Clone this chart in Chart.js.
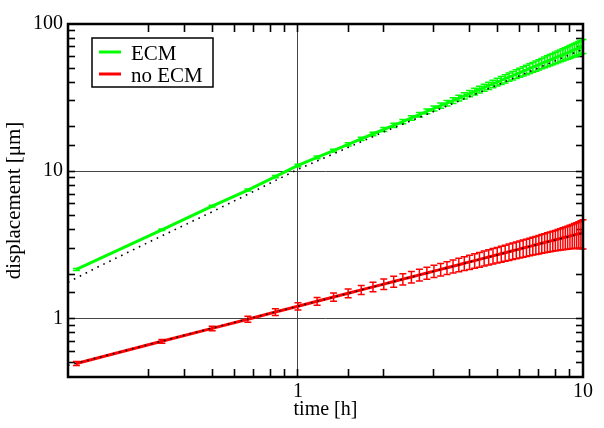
<!DOCTYPE html>
<html><head><meta charset="utf-8">
<script src="https://cdn.jsdelivr.net/npm/chart.js@4/dist/chart.umd.min.js"></script>
<style>html,body{margin:0;padding:0;background:#fff;overflow:hidden}</style>
</head><body>
<canvas id="c" width="604" height="428"></canvas>
<script>
// ---- data ----
const times = [0.167,0.333,0.5,0.667,0.833,1,1.167,1.333,1.5,1.667,1.833,2,2.167,2.333,2.5,2.667,2.833,3,3.167,3.333,3.5,3.667,3.833,4,4.167,4.333,4.5,4.667,4.833,5,5.167,5.333,5.5,5.667,5.833,6,6.167,6.333,6.5,6.667,6.833,7,7.167,7.333,7.5,7.667,7.833,8,8.167,8.333,8.5,8.667,8.833,9,9.167,9.333,9.5,9.667,9.833,10];
const ecm = [2.15,4.0,5.8,7.45,9.2,10.95,12.4,13.8,15.2,16.6,17.9,19.2,20.5,21.7,23.0,24.2,25.5,26.7,27.9,29.0,30.2,31.4,32.5,33.7,34.8,35.9,37.0,38.1,39.2,40.3,41.4,42.5,43.6,44.6,45.7,46.7,47.8,48.8,49.9,50.9,51.9,53.0,54.0,55.0,56.0,57.0,58.0,59.0,60.0,61.0,62.0,63.0,63.9,64.9,65.9,66.9,67.8,68.8,69.7,70.7];
const ecmErr = [0.03,0.05,0.08,0.12,0.16,0.22,0.27,0.32,0.38,0.44,0.51,0.58,0.65,0.72,0.81,0.89,0.98,1.07,1.16,1.26,1.36,1.47,1.57,1.69,1.80,1.91,2.04,2.16,2.29,2.42,2.55,2.69,2.83,2.97,3.12,3.27,3.43,3.58,3.74,3.90,4.06,4.24,4.41,4.58,4.76,4.94,5.12,5.31,5.50,5.69,5.89,6.09,6.28,6.49,6.70,6.91,7.12,7.34,7.55,7.78];
const noEcm = [0.494,0.699,0.856,0.988,1.105,1.21,1.307,1.397,1.482,1.562,1.638,1.711,1.781,1.848,1.913,1.976,2.037,2.096,2.153,2.209,2.264,2.317,2.369,2.42,2.470,2.519,2.567,2.614,2.660,2.706,2.750,2.794,2.838,2.880,2.922,2.964,3.005,3.045,3.085,3.124,3.163,3.201,3.239,3.277,3.314,3.350,3.387,3.422,3.458,3.493,3.528,3.562,3.596,3.63,3.663,3.697,3.729,3.762,3.794,3.826];
const noEcmErr = [0.015,0.02,0.03,0.045,0.06,0.07,0.08,0.09,0.10,0.11,0.12,0.14,0.15,0.16,0.17,0.18,0.19,0.20,0.21,0.22,0.23,0.245,0.255,0.27,0.28,0.29,0.30,0.31,0.32,0.33,0.34,0.35,0.36,0.37,0.38,0.39,0.40,0.41,0.42,0.43,0.44,0.46,0.47,0.48,0.50,0.51,0.53,0.54,0.56,0.58,0.60,0.62,0.64,0.66,0.68,0.71,0.74,0.77,0.81,0.86];
const fitEcmT = [0.156,0.2,0.3,0.5,0.7,1,1.5,2,3,5,7,10];
const fitEcmV = [1.76,2.25,3.3,5.3,7.3,10.3,14.5,18.5,25.5,38.5,50.5,67.5];
const fitNoT = [0.156,0.3,0.5,1,2,3,5,7,10];
const fitNoV = [0.48,0.665,0.86,1.21,1.71,2.09,2.7,3.2,3.8];
const xTickLabels = [1,10];
const yTickLabels = [1,10,100];
const xTitle = 'time [h]';
const yTitle = 'displacement [μm]';
const legendNames = ['ECM','no ECM'];

const FONT = "'Liberation Serif','Times New Roman',serif";
const X_MIN = 0.156, X_MAX = 10, Y_MIN = 0.4, Y_MAX = 100;
const pts = (xs, ys) => xs.map((x,i)=>({x, y: ys[i]}));
const edge = (v, lo, hi) => Math.abs(v - lo) < 1e-9 || Math.abs(v - hi) < 1e-9;

const errorBars = {
  id:'errorBars',
  afterDatasetDraw(chart, args){
    const ds = chart.data.datasets[args.index];
    if(!ds.errors) return;
    const {ctx, scales:{x,y}} = chart;
    ctx.save();
    ctx.setLineDash([]);
    ctx.strokeStyle = ds.borderColor;
    ctx.lineWidth = 1.5;
    ds.data.forEach((p,i)=>{
      const e = ds.errors[i];
      const px = x.getPixelForValue(p.x);
      const y1 = y.getPixelForValue(p.y - e), y2 = y.getPixelForValue(p.y + e);
      ctx.beginPath();
      ctx.moveTo(px,y1); ctx.lineTo(px,y2);
      ctx.moveTo(px-3.5,y1); ctx.lineTo(px+3.5,y1);
      ctx.moveTo(px-3.5,y2); ctx.lineTo(px+3.5,y2);
      ctx.stroke();
    });
    ctx.restore();
  }
};

const frame = {
  id:'frameLegend',
  afterDraw(chart){
    const c = chart.ctx, a = chart.chartArea;
    c.save();
    c.setLineDash([]);
    c.strokeStyle = '#000';
    c.lineWidth = 2.5;
    c.strokeRect(a.left, a.top, a.right - a.left, a.bottom - a.top);
    const bx = 92, by = 38, bw = 121, bh = 49;
    c.fillStyle = '#fff';
    c.fillRect(bx,by,bw,bh);
    c.lineWidth = 1.5;
    c.strokeRect(bx,by,bw,bh);
    chart.data.datasets.filter(d=>d.legendRow!==undefined).forEach(d=>{
      const ly = by + 14 + d.legendRow*22;
      c.strokeStyle = d.borderColor; c.lineWidth = 3;
      c.beginPath(); c.moveTo(bx+7, ly); c.lineTo(bx+29, ly); c.stroke();
      c.fillStyle = '#000';
      c.font = '21px ' + FONT;
      c.textBaseline = 'alphabetic';
      c.fillText(d.label, bx+39, ly+8);
    });
    c.restore();
  }
};

const tickCol = c => (c.tick && !edge(c.tick.value, c.scale.min, c.scale.max)) ? '#000' : 'rgba(0,0,0,0)';

new Chart(document.getElementById('c'), {
  type:'line',
  data:{
    datasets:[
      {label:'fit ECM', data: pts(fitEcmT, fitEcmV), borderColor:'#000', borderWidth:1.6, borderDash:[1.6,5], pointRadius:0, order:0},
      {label:'fit no ECM', data: pts(fitNoT, fitNoV), borderColor:'#000', borderWidth:1.6, borderDash:[1.6,5], pointRadius:0, order:0},
      {label:legendNames[0], data: pts(times, ecm), errors: ecmErr, borderColor:'#00ff00', borderWidth:3, pointRadius:0, order:1, legendRow:0},
      {label:legendNames[1], data: pts(times, noEcm), errors: noEcmErr, borderColor:'#ff0000', borderWidth:3, pointRadius:0, order:1, legendRow:1}
    ]
  },
  options:{
    responsive:false, animation:false,
    layout:{padding:{left:0, top:2, right:12, bottom:0}},
    plugins:{legend:{display:false}, tooltip:{enabled:false}},
    scales:{
      x:{type:'logarithmic', position:'bottom', min:X_MIN, max:X_MAX,
        afterFit: s => { s.height = 51; },
        grid:{drawTicks:true, tickLength:-8, tickWidth:1.6, tickColor: tickCol, lineWidth:1,
          color: c => (c.tick && xTickLabels.includes(c.tick.value) && c.tick.value<X_MAX) ? '#444' : 'rgba(0,0,0,0)'},
        border:{display:false},
        ticks:{autoSkip:false, maxRotation:0, padding:11, color:'#000', font:{family:FONT, size:20},
          callback: v => xTickLabels.includes(v) ? String(v) : ''},
        title:{display:true, text:xTitle, color:'#000', font:{family:FONT, size:20}, padding:{top:0,bottom:6}}
      },
      x2:{type:'logarithmic', position:'top', min:X_MIN, max:X_MAX,
        afterFit: s => { s.height = 0; },
        grid:{drawOnChartArea:false, drawTicks:true, tickLength:-8, tickWidth:1.6, tickColor: tickCol},
        border:{display:false},
        ticks:{autoSkip:false, maxRotation:0, callback: () => ''}
      },
      y:{type:'logarithmic', position:'left', min:Y_MIN, max:Y_MAX,
        afterFit: s => { s.width = 68; },
        grid:{drawTicks:true, tickLength:-7, tickWidth:1.6, tickColor: tickCol, lineWidth:1,
          color: c => (c.tick && yTickLabels.includes(c.tick.value) && c.tick.value<Y_MAX) ? '#444' : 'rgba(0,0,0,0)'},
        border:{display:false},
        ticks:{autoSkip:false, padding:12, color:'#000', font:{family:FONT, size:20},
          callback: v => yTickLabels.includes(v) ? String(v) : ''},
        title:{display:true, text:yTitle, color:'#000', font:{family:FONT, size:21}, padding:{top:2,bottom:0}}
      },
      y2:{type:'logarithmic', position:'right', min:Y_MIN, max:Y_MAX,
        afterFit: s => { s.width = 0; },
        grid:{drawOnChartArea:false, drawTicks:true, tickLength:-7, tickWidth:1.6, tickColor: tickCol},
        border:{display:false},
        ticks:{autoSkip:false, callback: () => ''}
      }
    }
  },
  plugins:[errorBars, frame]
});
</script>
</body></html>
